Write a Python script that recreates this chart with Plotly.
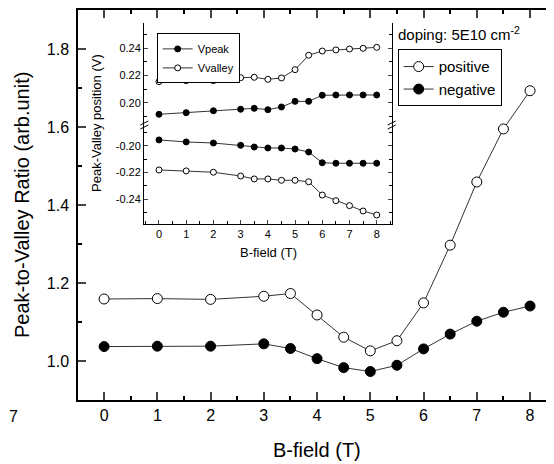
import plotly.graph_objects as go

# ---- main chart data ----
b_field = [0, 1, 2, 3, 3.5, 4, 4.5, 5, 5.5, 6, 6.5, 7, 7.5, 8]
ratio_positive = [1.159, 1.160, 1.158, 1.166, 1.173, 1.118, 1.061, 1.026, 1.052, 1.149, 1.297, 1.459, 1.595, 1.693]
ratio_negative = [1.037, 1.038, 1.038, 1.044, 1.032, 1.006, 0.983, 0.973, 0.989, 1.031, 1.069, 1.102, 1.125, 1.141]

# ---- inset data ----
inset_b = [0, 1, 2, 3, 3.5, 4, 4.5, 5, 5.5, 6, 6.5, 7, 7.5, 8]
vvalley_pos = [0.2155, 0.2162, 0.2162, 0.2184, 0.2187, 0.2172, 0.2182, 0.2243, 0.2349, 0.2380, 0.2388, 0.2395, 0.2400, 0.2407]
vpeak_pos = [0.1915, 0.1927, 0.1941, 0.1952, 0.1959, 0.1949, 0.1969, 0.2010, 0.2010, 0.2055, 0.2057, 0.2057, 0.2057, 0.2057]
vpeak_neg = [-0.1957, -0.1972, -0.1980, -0.1997, -0.2010, -0.2017, -0.2017, -0.2025, -0.2047, -0.2127, -0.2131, -0.2131, -0.2131, -0.2131]
vvalley_neg = [-0.2181, -0.2188, -0.2198, -0.2226, -0.2248, -0.2248, -0.2258, -0.2258, -0.2269, -0.2368, -0.2410, -0.2447, -0.2487, -0.2517]

main_yticks = [1.0, 1.2, 1.4, 1.6, 1.8]
main_yticktext = ["1.0", "1.2", "1.4", "1.6", "1.8"]
inset_up_ticks = [0.20, 0.22, 0.24]
inset_up_text = ["0.20", "0.22", "0.24"]
inset_lo_ticks = [-0.20, -0.22, -0.24]
inset_lo_text = ["-0.20", "-0.22", "-0.24"]

FONT = "Liberation Sans, Arial, sans-serif"
LINEC = "#333333"

fig = go.Figure()

fig.add_trace(go.Scatter(x=b_field, y=ratio_positive, name="positive", mode="lines+markers",
                         line=dict(color=LINEC, width=1),
                         marker=dict(symbol="circle", size=10, color="white", line=dict(color="black", width=1)),
                         legend="legend"))
fig.add_trace(go.Scatter(x=b_field, y=ratio_negative, name="negative", mode="lines+markers",
                         line=dict(color=LINEC, width=1),
                         marker=dict(symbol="circle", size=10, color="black", line=dict(color="black", width=1)),
                         legend="legend"))

# inset traces
fig.add_trace(go.Scatter(x=inset_b, y=vpeak_pos, name="Vpeak", mode="lines+markers", xaxis="x2", yaxis="y2",
                         line=dict(color=LINEC, width=1), legendgroup="vp",
                         marker=dict(size=6, color="black", line=dict(color="black", width=1)),
                         legend="legend2"))
fig.add_trace(go.Scatter(x=inset_b, y=vvalley_pos, name="Vvalley", mode="lines+markers", xaxis="x2", yaxis="y2",
                         line=dict(color=LINEC, width=1), legendgroup="vv",
                         marker=dict(size=6, color="white", line=dict(color="black", width=1)),
                         legend="legend2"))
fig.add_trace(go.Scatter(x=inset_b, y=vpeak_neg, name="Vpeak", mode="lines+markers", xaxis="x2", yaxis="y3",
                         line=dict(color=LINEC, width=1), legendgroup="vp", showlegend=False,
                         marker=dict(size=6, color="black", line=dict(color="black", width=1))))
fig.add_trace(go.Scatter(x=inset_b, y=vvalley_neg, name="Vvalley", mode="lines+markers", xaxis="x2", yaxis="y3",
                         line=dict(color=LINEC, width=1), legendgroup="vv", showlegend=False,
                         marker=dict(size=6, color="white", line=dict(color="black", width=1))))

main_ax = dict(showline=True, linewidth=1.5, linecolor="black", ticks="inside", tickwidth=1.5,
               ticklen=8, mirror="allticks", showgrid=False, zeroline=False, automargin=False,
               tickfont=dict(size=16, family=FONT, color="black"))
inset_ax = dict(showline=True, linewidth=1, linecolor="black", ticks="inside", tickwidth=1,
                ticklen=4, showgrid=False, zeroline=False, automargin=False,
                tickfont=dict(size=11, family=FONT, color="black"))

ix0, ix1 = 0.1387, 0.659
iy0, ibrk, iy1 = 0.4513, 0.705, 0.9674

# page body has an 8px margin: figure is 546x456 placed at (8, 8)
fig.update_layout(
    width=546, height=456,
    margin=dict(l=70, r=0, t=2, b=64, autoexpand=False),
    paper_bgcolor="white", plot_bgcolor="white",
    font=dict(family=FONT, color="black"),
    xaxis=dict(domain=[0, 1], anchor="y", range=[-0.49, 8.45], dtick=1, tick0=0,
               minor=dict(dtick=0.5, tick0=0, ticks="inside", ticklen=4, tickwidth=1.5, tickcolor="black"),
               **main_ax),
    yaxis=dict(domain=[0, 1], anchor="x", range=[0.9, 1.9], tickvals=main_yticks, ticktext=main_yticktext,
               minor=dict(dtick=0.1, tick0=0, ticks="inside", ticklen=4, tickwidth=1.5, tickcolor="black"),
               ticklabelstandoff=4,
               **main_ax),
    xaxis2=dict(domain=[ix0, ix1], anchor="y3", range=[-0.55, 8.55], dtick=1, tick0=0,
                minor=dict(dtick=0.5, tick0=0, ticks="inside", ticklen=2.5, tickcolor="black"),
                **inset_ax),
    xaxis3=dict(domain=[ix0, ix1], anchor="y2", matches="x2", side="top", range=[-0.55, 8.55], dtick=1, tick0=0,
                showticklabels=False,
                minor=dict(dtick=0.5, tick0=0, ticks="inside", ticklen=2.5, tickcolor="black"),
                **inset_ax),
    yaxis2=dict(domain=[ibrk, iy1], anchor="x2", range=[0.1836, 0.2588], tickvals=inset_up_ticks,
                ticktext=inset_up_text, mirror="allticks",
                minor=dict(dtick=0.01, tick0=0, ticks="inside", ticklen=2.5, tickcolor="black"),
                **inset_ax),
    yaxis3=dict(domain=[iy0, ibrk], anchor="x2", range=[-0.2584, -0.1846], tickvals=inset_lo_ticks,
                ticktext=inset_lo_text, mirror="allticks",
                minor=dict(dtick=0.01, tick0=0, ticks="inside", ticklen=2.5, tickcolor="black"),
                **inset_ax),
    legend=dict(x=0.6716, y=0.8992, xanchor="left", yanchor="top", bordercolor="black", borderwidth=1,
                bgcolor="white", font=dict(size=15, family=FONT), tracegroupgap=0, itemwidth=30),
    legend2=dict(x=0.1653, y=0.940, xanchor="left", yanchor="top", bordercolor="black", borderwidth=1,
                 bgcolor="white", font=dict(size=11, family=FONT), tracegroupgap=0, itemwidth=30),
)

# main axis titles
fig.add_annotation(text="Peak-to-Valley Ratio (arb.unit)", xref="paper", yref="paper",
                   x=(22 - 78) / 476, y=0.5, textangle=-90, showarrow=False,
                   font=dict(size=20, family=FONT), xanchor="center", yanchor="middle")
fig.add_annotation(text="B-field (T)", xref="paper", yref="paper",
                   x=(317 - 78) / 476, y=(400 - 450) / 390, showarrow=False,
                   font=dict(size=20, family=FONT), xanchor="center", yanchor="middle")
# inset axis titles
fig.add_annotation(text="Peak-Valley position (V)", xref="paper", yref="paper",
                   x=(97 - 78) / 476, y=(400 - 123) / 390, textangle=-90, showarrow=False,
                   font=dict(size=13, family=FONT), xanchor="center", yanchor="middle")
fig.add_annotation(text="B-field (T)", xref="paper", yref="paper",
                   x=(268 - 78) / 476, y=(400 - 252) / 390, showarrow=False,
                   font=dict(size=13, family=FONT), xanchor="center", yanchor="middle")
# legend header
fig.add_annotation(text="doping: 5E10 cm<sup>-2</sup>", xref="paper", yref="paper",
                   x=(396 - 78) / 476, y=(400 - 33) / 390, showarrow=False,
                   font=dict(size=15, family=FONT), xanchor="left", yanchor="middle")
# cropped fragment at the lower left
fig.add_annotation(text="7", xref="paper", yref="paper", x=(13 - 78) / 476, y=(400 - 416) / 390,
                   showarrow=False, font=dict(size=16, family=FONT), xanchor="center", yanchor="middle")

# axis break marks on the inset
for px in (144.3, 391.7):
    for dy in (-2, 2):
        x0 = (px - 4 - 78) / 476
        x1 = (px + 4 - 78) / 476
        fig.add_shape(type="line", xref="paper", yref="paper",
                      x0=x0, x1=x1, y0=(400 - (125 + dy + 2)) / 390, y1=(400 - (125 + dy - 2)) / 390,
                      line=dict(color="black", width=1))

fig.write_html("out.html")
